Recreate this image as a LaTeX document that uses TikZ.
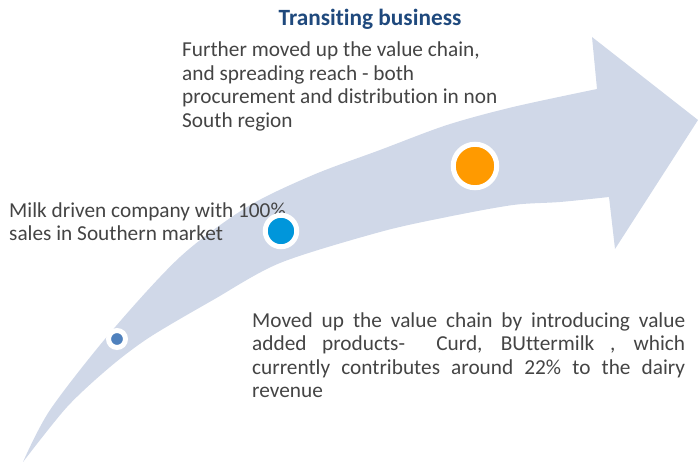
\documentclass[tikz,border=0pt]{standalone}
\usepackage{fontspec}
\setmainfont{Carlito}[Ligatures=NoCommon]
\usetikzlibrary{positioning}
\definecolor{arrowfill}{HTML}{D0D8E8}
\definecolor{textgray}{HTML}{444444}
\definecolor{titleblue}{HTML}{1F497D}
\definecolor{smalldot}{HTML}{4F81BD}
\definecolor{bluedot}{HTML}{0096DB}
\definecolor{orangedot}{HTML}{FF9A00}

\begin{document}
\begin{tikzpicture}[
    x=1pt,y=-1pt,
    milestone/.style={circle,fill=#1,draw=white,line width=5pt,inner sep=0pt},
    caption/.style={anchor=base west,inner sep=0pt,text=textgray,font=\fontsize{21.3}{23.5}\selectfont},
    heading/.style={anchor=base,inner sep=0pt,text=titleblue,font=\fontsize{23.3}{28}\selectfont\bfseries}
]
\useasboundingbox (0,0) rectangle (698,462);
% curved arrow
\fill[arrowfill] plot[smooth] coordinates {(23,462) (50,410) (110,333) (180,257) (247,207) (313,175) (380,150) (447,125) (513,107) (597,89)}
    -- (592,37) -- (698,120) -- (615,249) -- (609,197)
    -- plot[smooth] coordinates {(609,197) (560,202) (513,205) (447,217) (380,232) (280,263) (213,300) (150,337) (110,367) (67,407) (23,462)} -- cycle;
\node[heading] (title) at (370,26) {Transiting business};
% base anchor sits on the last line here
\node[caption,align=left] (reach) at (182,127.5) {Further moved up the value chain,\\and spreading reach - both\\procurement and distribution in non\\South region};
\node[caption,align=left] (milk) at (9,240.5) {Milk driven company with 100\%\\sales in Southern market};
\node[caption,text width=433pt,align=justify] (products) at (252,327) {Moved up the value chain by introducing value\linebreak added products-\ \ Curd, BUttermilk\ , which\linebreak currently contributes around 22\% to the dairy\linebreak revenue};
% milestones
\foreach \name/\x/\y/\s/\c in {start/117/339/17/smalldot,south/281/231/31.5/bluedot,nonsouth/475/166/43.5/orangedot}
    \node[milestone=\c,minimum size=\s pt] (\name) at (\x,\y) {};
\end{tikzpicture}
\end{document}
